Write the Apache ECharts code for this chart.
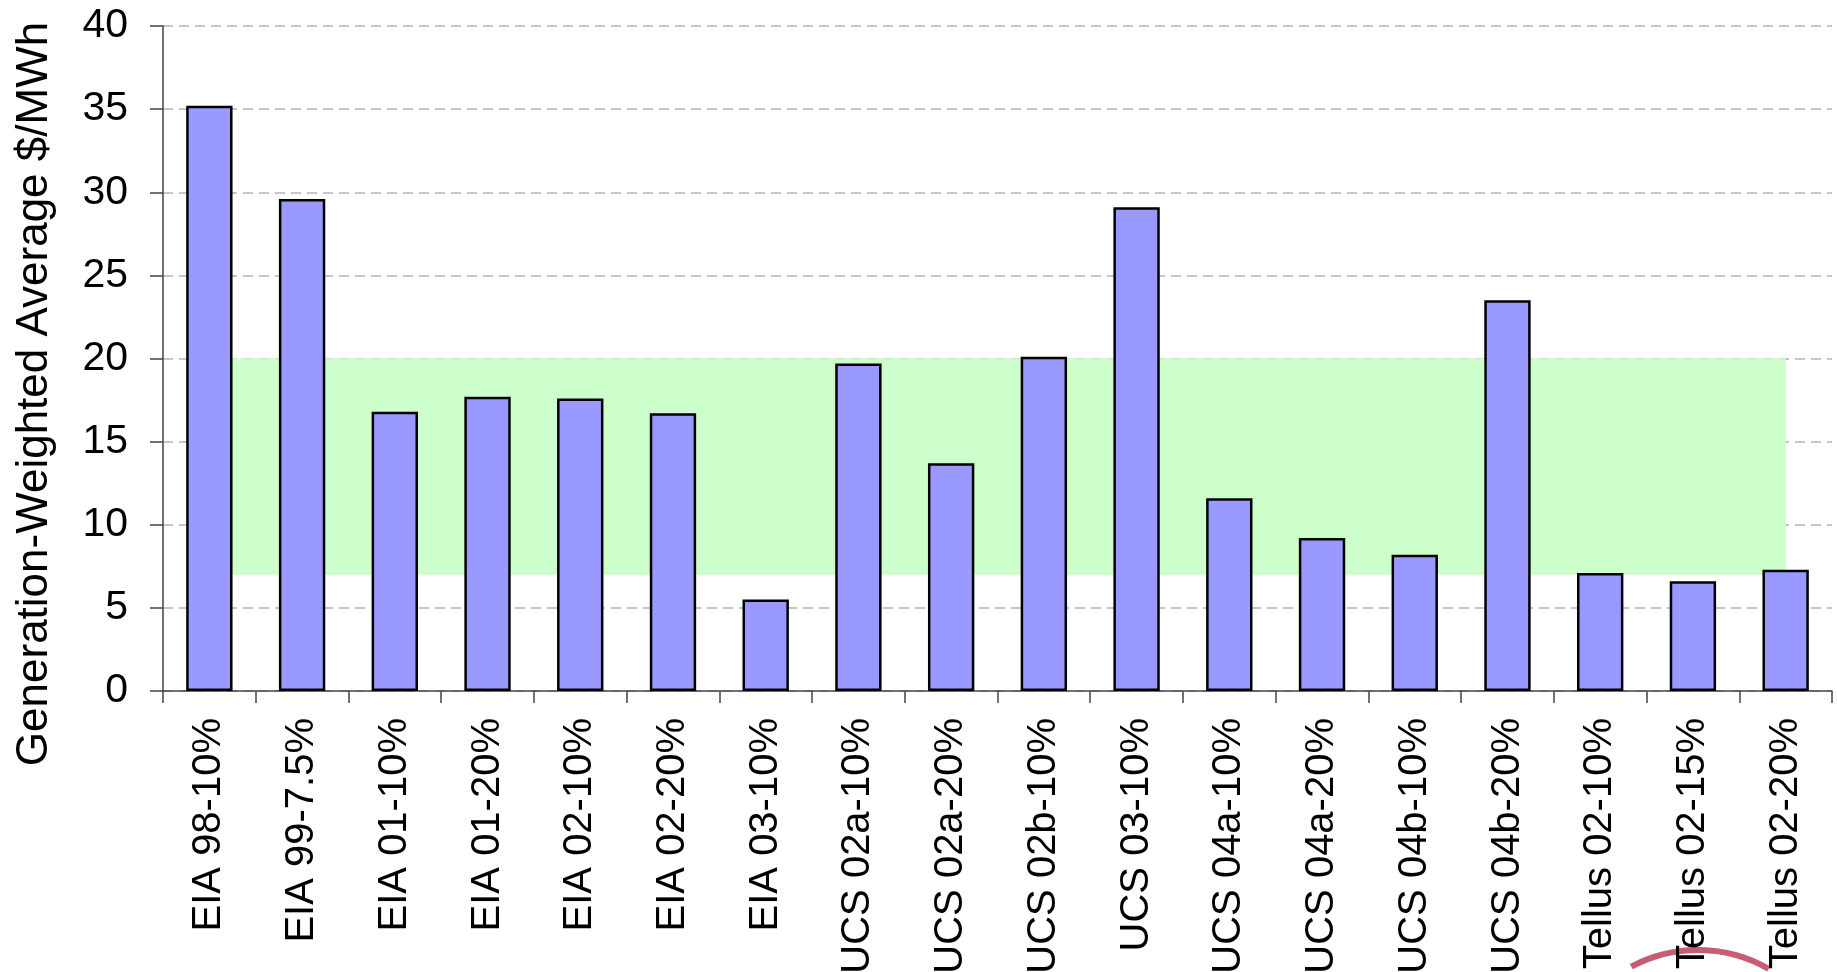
<!DOCTYPE html>
<html>
<head>
<meta charset="utf-8">
<title>Generation-Weighted Average $/MWh</title>
<script src="https://cdn.jsdelivr.net/npm/echarts@6/dist/echarts.min.js"></script>
<style>
    html, body { margin: 0; padding: 0; background: #fff; }
    #chart { width: 1837px; height: 972px; }
</style>
</head>
<body>
<div id="chart"></div>
<script>
// categories along the x axis
var categories = [
    'EIA 98-10%', 'EIA 99-7.5%', 'EIA 01-10%', 'EIA 01-20%', 'EIA 02-10%',
    'EIA 02-20%', 'EIA 03-10%', 'UCS 02a-10%', 'UCS 02a-20%', 'UCS 02b-10%',
    'UCS 03-10%', 'UCS 04a-10%', 'UCS 04a-20%', 'UCS 04b-10%', 'UCS 04b-20%',
    'Tellus 02-10%', 'Tellus 02-15%', 'Tellus 02-20%'
];
// bar heights, $/MWh
var values = [
    35.2, 29.6, 16.8, 17.7, 17.6,
    16.7, 5.5, 19.7, 13.7, 20.1,
    29.1, 11.6, 9.2, 8.2, 23.5,
    7.1, 6.6, 7.3
];
// shaded range (low, high)
var bandRange = [7, 20];
var yTicks = [0, 5, 10, 15, 20, 25, 30, 35, 40];

(function () {
    var myChart = echarts.init(document.getElementById('chart'));
    var font = '"Liberation Sans", Arial, sans-serif';
    var option = {
        backgroundColor: '#ffffff',
        animation: false,
        grid: {
            left: 163,
            right: 5,
            top: 26,
            bottom: 281,
            containLabel: false,
            outerBoundsMode: 'none'
        },
        xAxis: {
            type: 'category',
            data: categories,
            boundaryGap: true,
            axisLine: { show: true, lineStyle: { color: '#444', width: 1.5 } },
            axisTick: { show: true, length: 12, alignWithLabel: false, lineStyle: { color: '#444', width: 1.5 } },
            axisLabel: {
                rotate: 90,
                margin: 27,
                interval: 0,
                color: '#000',
                fontSize: 40,
                fontFamily: font
            },
            splitLine: { show: false }
        },
        yAxis: {
            type: 'value',
            min: yTicks[0],
            max: yTicks[yTicks.length - 1],
            interval: 5,
            axisLine: { show: true, lineStyle: { color: '#444', width: 1.5 } },
            axisTick: { show: true, length: 13, lineStyle: { color: '#444', width: 1.5 } },
            axisLabel: {
                margin: 35,
                color: '#000',
                fontSize: 41,
                fontFamily: font
            },
            splitLine: {
                show: true,
                lineStyle: { color: '#b4b4b4', width: 1.5, type: [10, 6] }
            }
        },
        graphic: [
            {
                type: 'text',
                x: 35,
                y: 394,
                rotation: Math.PI / 2,
                style: {
                    text: 'Generation-Weighted Average $/MWh',
                    fill: '#000',
                    font: '44px "Liberation Sans", Arial, sans-serif',
                    align: 'center',
                    verticalAlign: 'middle'
                },
                z: 10
            },
            {
                type: 'arc',
                shape: { cx: 1698, cy: 1092, r: 142, startAngle: -2.06, endAngle: -1.05, clockwise: true },
                style: { stroke: '#b8354f', lineWidth: 6, fill: null, opacity: 0.8 },
                z: 0
            }
        ],
        series: [
            {
                // green band behind the bars
                type: 'line',
                data: [],
                z: 1,
                silent: true,
                markArea: {
                    silent: true,
                    itemStyle: { color: '#ccffcc', opacity: 1 },
                    data: [[
                        { xAxis: categories[0], yAxis: bandRange[0] },
                        { xAxis: categories[categories.length - 1], yAxis: bandRange[1] }
                    ]]
                }
            },
            {
                type: 'bar',
                data: values,
                z: 3,
                barWidth: '50%',
                itemStyle: {
                    color: '#9999ff',
                    borderColor: '#000',
                    borderWidth: 2.5
                }
            }
        ]
    };
    myChart.setOption(option);
    window.addEventListener('resize', function () {
        myChart.resize();
    });
})();
</script>
</body>
</html>
